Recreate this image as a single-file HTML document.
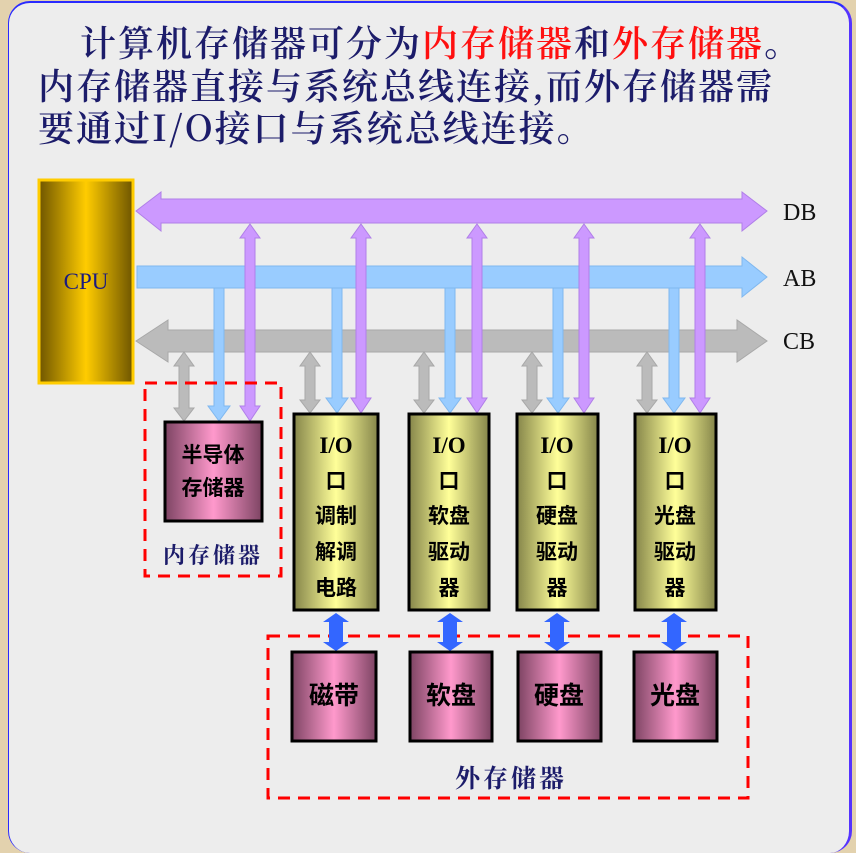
<!DOCTYPE html>
<html><head><meta charset="utf-8"><style>
html,body{margin:0;padding:0;background:#e3d2ae;}
body{width:856px;height:820px;overflow:hidden;position:relative;font-family:"Liberation Serif","Noto Serif CJK SC",serif;}
.panel{position:absolute;left:8px;top:1px;width:840px;height:850px;background:#ededed;border-left:1.5px solid #2a2aff;border-top:2px solid #2a2aff;border-right:3px solid #5533ff;border-radius:22px;}
.t{position:absolute;font-family:"Noto Serif CJK SC","Liberation Serif",serif;font-size:36px;color:#1c1c6a;white-space:nowrap;line-height:42px;letter-spacing:2px;font-weight:600;}
.r{color:#ff1010;}
</style></head><body>
<div class="panel"></div>
<div class="t" style="left:80px;top:21px;">计算机存储器可分为<span class="r">内存储器</span>和<span class="r">外存储器</span>。</div>
<div class="t" style="left:38px;top:64px;">内存储器直接与系统总线连接,而外存储器需</div>
<div class="t" style="left:38px;top:106px;">要通过I/O接口与系统总线连接。</div>
<svg width="856" height="820" style="position:absolute;left:0;top:0" xmlns="http://www.w3.org/2000/svg">
<defs>
<linearGradient id="cpu" x1="0" x2="1" y1="0" y2="0"><stop offset="0" stop-color="#6e5500"/><stop offset="0.5" stop-color="#ffcc00"/><stop offset="1" stop-color="#6e5500"/></linearGradient>
<linearGradient id="io" x1="0" x2="1" y1="0" y2="0"><stop offset="0" stop-color="#85854a"/><stop offset="0.5" stop-color="#ffff99"/><stop offset="1" stop-color="#85854a"/></linearGradient>
<linearGradient id="pk" x1="0" x2="1" y1="0" y2="0"><stop offset="0" stop-color="#7d4463"/><stop offset="0.5" stop-color="#ff99cc"/><stop offset="1" stop-color="#7d4463"/></linearGradient>
</defs>
<rect x="39" y="180" width="94" height="203" fill="url(#cpu)" stroke="#ffcc00" stroke-width="3"/>
<text x="86" y="289" text-anchor="middle" font-family="Liberation Serif,serif" font-size="23" fill="#1a1a80">CPU</text>
<polygon points="136,211 161,192 161,199 742,199 742,192 767,211 742,231 742,223 161,223 161,231" fill="#cc99ff" stroke="#b07fe8" stroke-width="1"/>
<polygon points="137,266 742,266 742,257 767,277 742,297 742,288 137,288" fill="#99ccff" stroke="#80b8ef" stroke-width="1"/>
<polygon points="136,341 168,320 168,330 737,330 737,320 767,341 737,362 737,352 168,352 168,362" fill="#bbbbbb" stroke="#a8a8a8" stroke-width="1"/>
<g font-family="Liberation Serif,serif" font-size="24" fill="#111">
<text x="783" y="220">DB</text><text x="783" y="286">AB</text><text x="783" y="349">CB</text></g>
<g stroke-width="1">
<polygon points="184,352 194,366 189,366 189,408 194,408 184,421 174,408 179,408 179,366 174,366" fill="#bbbbbb" stroke="#a8a8a8"/>
<polygon points="214,288 224,288 224,406 230,406 219,421 208,406 214,406" fill="#99ccff" stroke="#80b8ef"/>
<polygon points="250,224 260,238 255,238 255,406 260,406 250,421 240,406 245,406 245,238 240,238" fill="#cc99ff" stroke="#b07fe8"/>
<polygon points="310,352 320,366 315,366 315,400 320,400 310,413 300,400 305,400 305,366 300,366" fill="#bbbbbb" stroke="#a8a8a8"/>
<polygon points="332,288 342,288 342,398 348,398 337,413 326,398 332,398" fill="#99ccff" stroke="#80b8ef"/>
<polygon points="361,224 371,238 366,238 366,398 371,398 361,413 351,398 356,398 356,238 351,238" fill="#cc99ff" stroke="#b07fe8"/>
<polygon points="424,352 434,366 429,366 429,400 434,400 424,413 414,400 419,400 419,366 414,366" fill="#bbbbbb" stroke="#a8a8a8"/>
<polygon points="445,288 455,288 455,398 461,398 450,413 439,398 445,398" fill="#99ccff" stroke="#80b8ef"/>
<polygon points="477,224 487,238 482,238 482,398 487,398 477,413 467,398 472,398 472,238 467,238" fill="#cc99ff" stroke="#b07fe8"/>
<polygon points="532,352 542,366 537,366 537,400 542,400 532,413 522,400 527,400 527,366 522,366" fill="#bbbbbb" stroke="#a8a8a8"/>
<polygon points="553,288 563,288 563,398 569,398 558,413 547,398 553,398" fill="#99ccff" stroke="#80b8ef"/>
<polygon points="584,224 594,238 589,238 589,398 594,398 584,413 574,398 579,398 579,238 574,238" fill="#cc99ff" stroke="#b07fe8"/>
<polygon points="647,352 657,366 652,366 652,400 657,400 647,413 637,400 642,400 642,366 637,366" fill="#bbbbbb" stroke="#a8a8a8"/>
<polygon points="669,288 679,288 679,398 685,398 674,413 663,398 669,398" fill="#99ccff" stroke="#80b8ef"/>
<polygon points="700,224 710,238 705,238 705,398 710,398 700,413 690,398 695,398 695,238 690,238" fill="#cc99ff" stroke="#b07fe8"/>
</g>
<g fill="none" stroke="#ff0000" stroke-width="3" stroke-dasharray="12,8">
<rect x="145" y="383" width="136" height="193"/>
<rect x="268" y="636" width="480" height="162"/>
</g>
<text x="213" y="563" text-anchor="middle" font-family="Noto Serif CJK SC,serif" font-size="22" font-weight="bold" fill="#1c1c6a" letter-spacing="3">内存储器</text>
<text x="511" y="787" text-anchor="middle" font-family="Noto Serif CJK SC,serif" font-size="25" font-weight="bold" fill="#1c1c6a" letter-spacing="3">外存储器</text>
<rect x="165" y="422" width="97" height="99" fill="url(#pk)" stroke="#000" stroke-width="3"/>
<g font-family="Noto Sans CJK SC,sans-serif" font-size="21" font-weight="bold" fill="#000" text-anchor="middle">
<text x="213" y="462">半导体</text><text x="213" y="495">存储器</text></g>
<g fill="url(#io)" stroke="#000" stroke-width="3">
<rect x="294" y="414" width="84" height="196"/>
<rect x="409" y="414" width="80" height="196"/>
<rect x="517" y="414" width="81" height="196"/>
<rect x="635" y="414" width="81" height="196"/>
</g>
<g font-family="Noto Sans CJK SC,sans-serif" font-size="21" font-weight="bold" fill="#000" text-anchor="middle">
<g font-family="Liberation Serif,serif" font-size="23">
<text x="336" y="453">I/O</text><text x="449" y="453">I/O</text><text x="557" y="453">I/O</text><text x="675" y="453">I/O</text></g>
<text x="336" y="488">口</text><text x="449" y="488">口</text><text x="557" y="488">口</text><text x="675" y="488">口</text>
<text x="336" y="523">调制</text><text x="449" y="523">软盘</text><text x="557" y="523">硬盘</text><text x="675" y="523">光盘</text>
<text x="336" y="559">解调</text><text x="449" y="559">驱动</text><text x="557" y="559">驱动</text><text x="675" y="559">驱动</text>
<text x="336" y="595">电路</text><text x="449" y="595">器</text><text x="557" y="595">器</text><text x="675" y="595">器</text>
</g>
<g fill="#3366ff">
<polygon points="336,613 349,622 343,622 343,642 349,642 336,651 323,642 329,642 329,622 323,622"/>
<polygon points="450,613 463,622 457,622 457,642 463,642 450,651 437,642 443,642 443,622 437,622"/>
<polygon points="557,613 570,622 564,622 564,642 570,642 557,651 544,642 550,642 550,622 544,622"/>
<polygon points="674,613 687,622 681,622 681,642 687,642 674,651 661,642 667,642 667,622 661,622"/>
</g>
<g fill="url(#pk)" stroke="#000" stroke-width="3">
<rect x="292" y="652" width="84" height="89"/>
<rect x="410" y="652" width="82" height="89"/>
<rect x="518" y="652" width="83" height="89"/>
<rect x="634" y="652" width="83" height="89"/>
</g>
<g font-family="Noto Sans CJK SC,sans-serif" font-size="25" font-weight="bold" fill="#000" text-anchor="middle">
<text x="334" y="704">磁带</text><text x="451" y="704">软盘</text><text x="559" y="704">硬盘</text><text x="675" y="704">光盘</text></g>
</svg>
</body></html>
